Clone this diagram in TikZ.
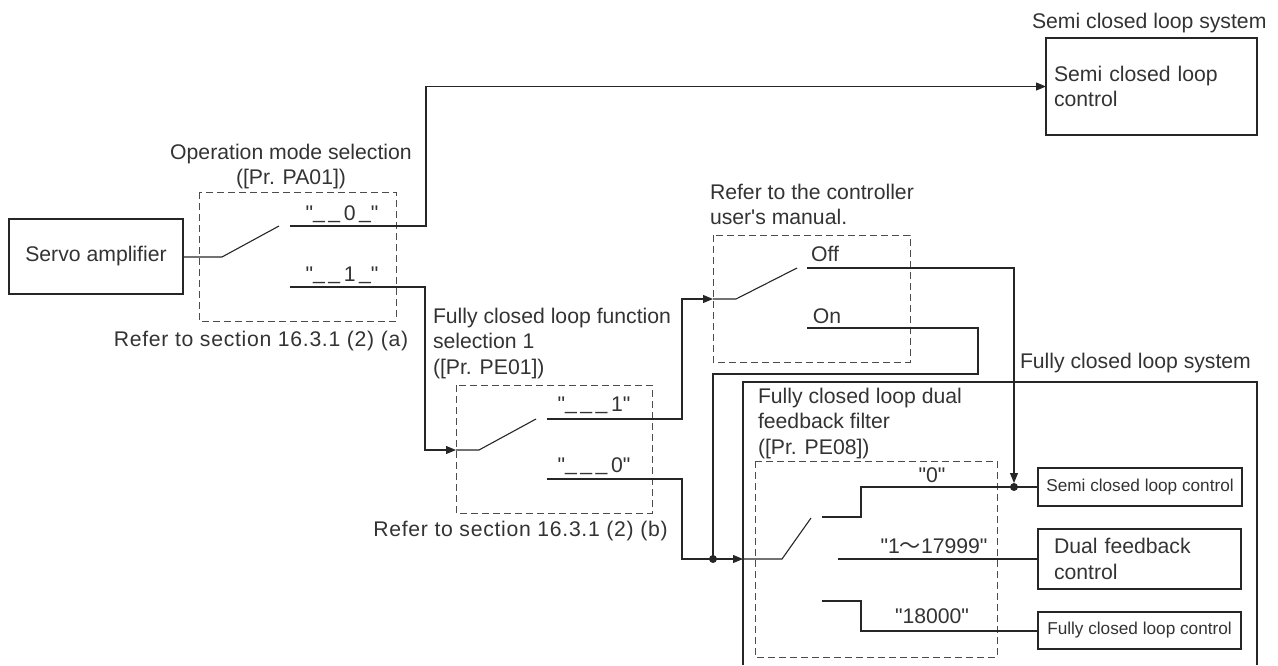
\documentclass[tikz,border=0pt]{standalone}
\usepackage{fontspec}
\setmainfont{Liberation Sans}
\newfontfamily\cjkfont{Noto Sans CJK SC}
\usetikzlibrary{arrows.meta}
\newcommand\qq{\textquotedbl}
\newcommand\us{\raisebox{2pt}{\_}}
\newcommand\gp{\hspace{3.5pt}}
\begin{document}
\begin{tikzpicture}[x=1pt,y=-1pt,
  every node/.style={inner sep=0pt,outer sep=0pt,text=black!80,font=\fontsize{21.2}{25.5}\selectfont},
  wire/.style={line width=1.1pt,draw=black!85},
  arr/.style={wire,-{Triangle[length=10pt,width=8pt]}},
  dbox/.style={draw=black!70,line width=0.9pt,dash pattern=on 7pt off 4pt},
  blk/.style={draw=black!85,line width=1.1pt},
  smallfont/.style={font=\fontsize{17.2}{20}\selectfont},
  widefont/.style={font=\fontsize{21.2}{25.5}\selectfont\addfontfeature{LetterSpace=3.3}},
  jdot/.style={circle,fill=black!85,minimum size=8pt},
  lbl/.style={anchor=base},
  lblw/.style={anchor=base west}
]
\useasboundingbox (0,0) rectangle (1278,665);

% ---- boxes
\node[blk,minimum width=174pt,minimum height=75pt] (servo) at (96,256.5) {Servo amplifier};
\node[blk,text width=195pt,inner xsep=8pt,align=left,minimum height=97pt] (semi) at (1151.5,86.5) {Semi closed loop\\control};
\node[blk,smallfont,minimum width=204pt,minimum height=38pt] (sclc) at (1140,487) {Semi closed loop control};
\node[blk,text width=171pt,inner xsep=16pt,align=left,minimum height=60pt] (dfc) at (1139.5,559) {Dual feedback\\control};
\node[blk,smallfont,minimum width=203pt,minimum height=37pt] (fclc) at (1139.5,630.5) {Fully closed loop control};

% ---- dashed selector frames
\draw[dbox] (199,192) rectangle (396,321);
\draw[dbox] (456,385) rectangle (652,513);
\draw[dbox] (713,235) rectangle (910,362);
\draw[dbox] (755,461) rectangle (997,657);

% ---- fully closed loop system frame
\draw[blk] (743,665) -- (743,382) -- (1257,382) -- (1257,665);

% ---- texts
\node[anchor=north,align=center] (opm) at (291,144) {Operation mode selection\\([Pr. PA01])};
\node[lbl,widefont] (refa) at (261,346) {Refer to section 16.3.1 (2) (a)};
\node[anchor=north west,align=left] (fcf) at (433,308) {Fully closed loop function\\selection 1\\([Pr. PE01])};
\node[lbl,widefont] (refb) at (520.5,536.5) {Refer to section 16.3.1 (2) (b)};
\node[anchor=north west,align=left] (ctl) at (710,184) {Refer to the controller\\user\textquotesingle s manual.};
\node[anchor=north west,align=left] (pe08t) at (758,388) {Fully closed loop dual\\feedback filter\\([Pr. PE08])};
\node[lblw] (sys1) at (1032,28) {Semi closed loop system};
\node[lblw] (sys2) at (1020,368) {Fully closed loop system};

% ---- switch position labels
\node[lbl] (l00) at (342,220) {\qq\us\gp\us\gp0\gp\us\qq};
\node[lbl] (l01) at (342,281) {\qq\us\gp\us\gp1\gp\us\qq};
\node[lbl] (l11) at (594,411) {\qq\us\gp\us\gp\us\gp1\qq};
\node[lbl] (l10) at (594,472) {\qq\us\gp\us\gp\us\gp0\qq};
\node[lbl] (loff) at (825,261) {Off};
\node[lbl] (lon) at (827,323) {On};
\node[lbl] (lz) at (932,482) {\qq 0\qq};
\node[lbl] (ld) at (934,553) {\qq 1{\cjkfont ～}17999\qq};
\node[lbl] (lf) at (932,623) {\qq 18000\qq};

% ---- coordinates
\coordinate (paIn) at (222,257);
\coordinate (paTip) at (279,226);
\coordinate (pa0) at (290,226);
\coordinate (pa1) at (290,287);
\coordinate (peIn) at (456,450);
\coordinate (peTip) at (536,419);
\coordinate (pe1) at (547,419);
\coordinate (pe0) at (547,479);
\coordinate (ctlIn) at (713,299);
\coordinate (offS) at (807,268);
\coordinate (onS) at (807,328);
\coordinate (fIn) at (743,559);
\coordinate (fTip) at (811,518);
\coordinate (f0) at (822,517);
\coordinate (f1) at (838,559);
\coordinate (f2) at (822,601);
\node[jdot] (j1) at (713,559) {};
\node[jdot] (j2) at (1014,487) {};

% ---- connectors
\draw[wire] (servo.east |- paIn) -- (paIn) -- (paTip);
\draw[arr] (pa0) -- (426,226) |- (semi.west);
\draw[arr] (pa1) -- (425,287) |- (peIn);
\draw[wire] (peIn) -- (479,450) -- (peTip);
\draw[arr] (pe1) -- (682,419) |- (ctlIn);
\draw[arr] (pe0) -- (682,479) |- (fIn);
\draw[wire] (ctlIn) -- (736,299) -- (797,268);
\draw[arr] (offS) -| (j2.north);
\draw[wire] (onS) -- (978,328) -- (978,374) -- (713,374) -- (j1.center);
\draw[wire] (fIn) -- (782,559) -- (fTip);
\draw[wire] (f0) -- (861,517) -- (861,487) -- (sclc.west);
\draw[wire] (f1) -- (dfc.west);
\draw[wire] (f2) -- (861,601) -- (861,631) -- (fclc.west |- 0,631);
\end{tikzpicture}
\end{document}
